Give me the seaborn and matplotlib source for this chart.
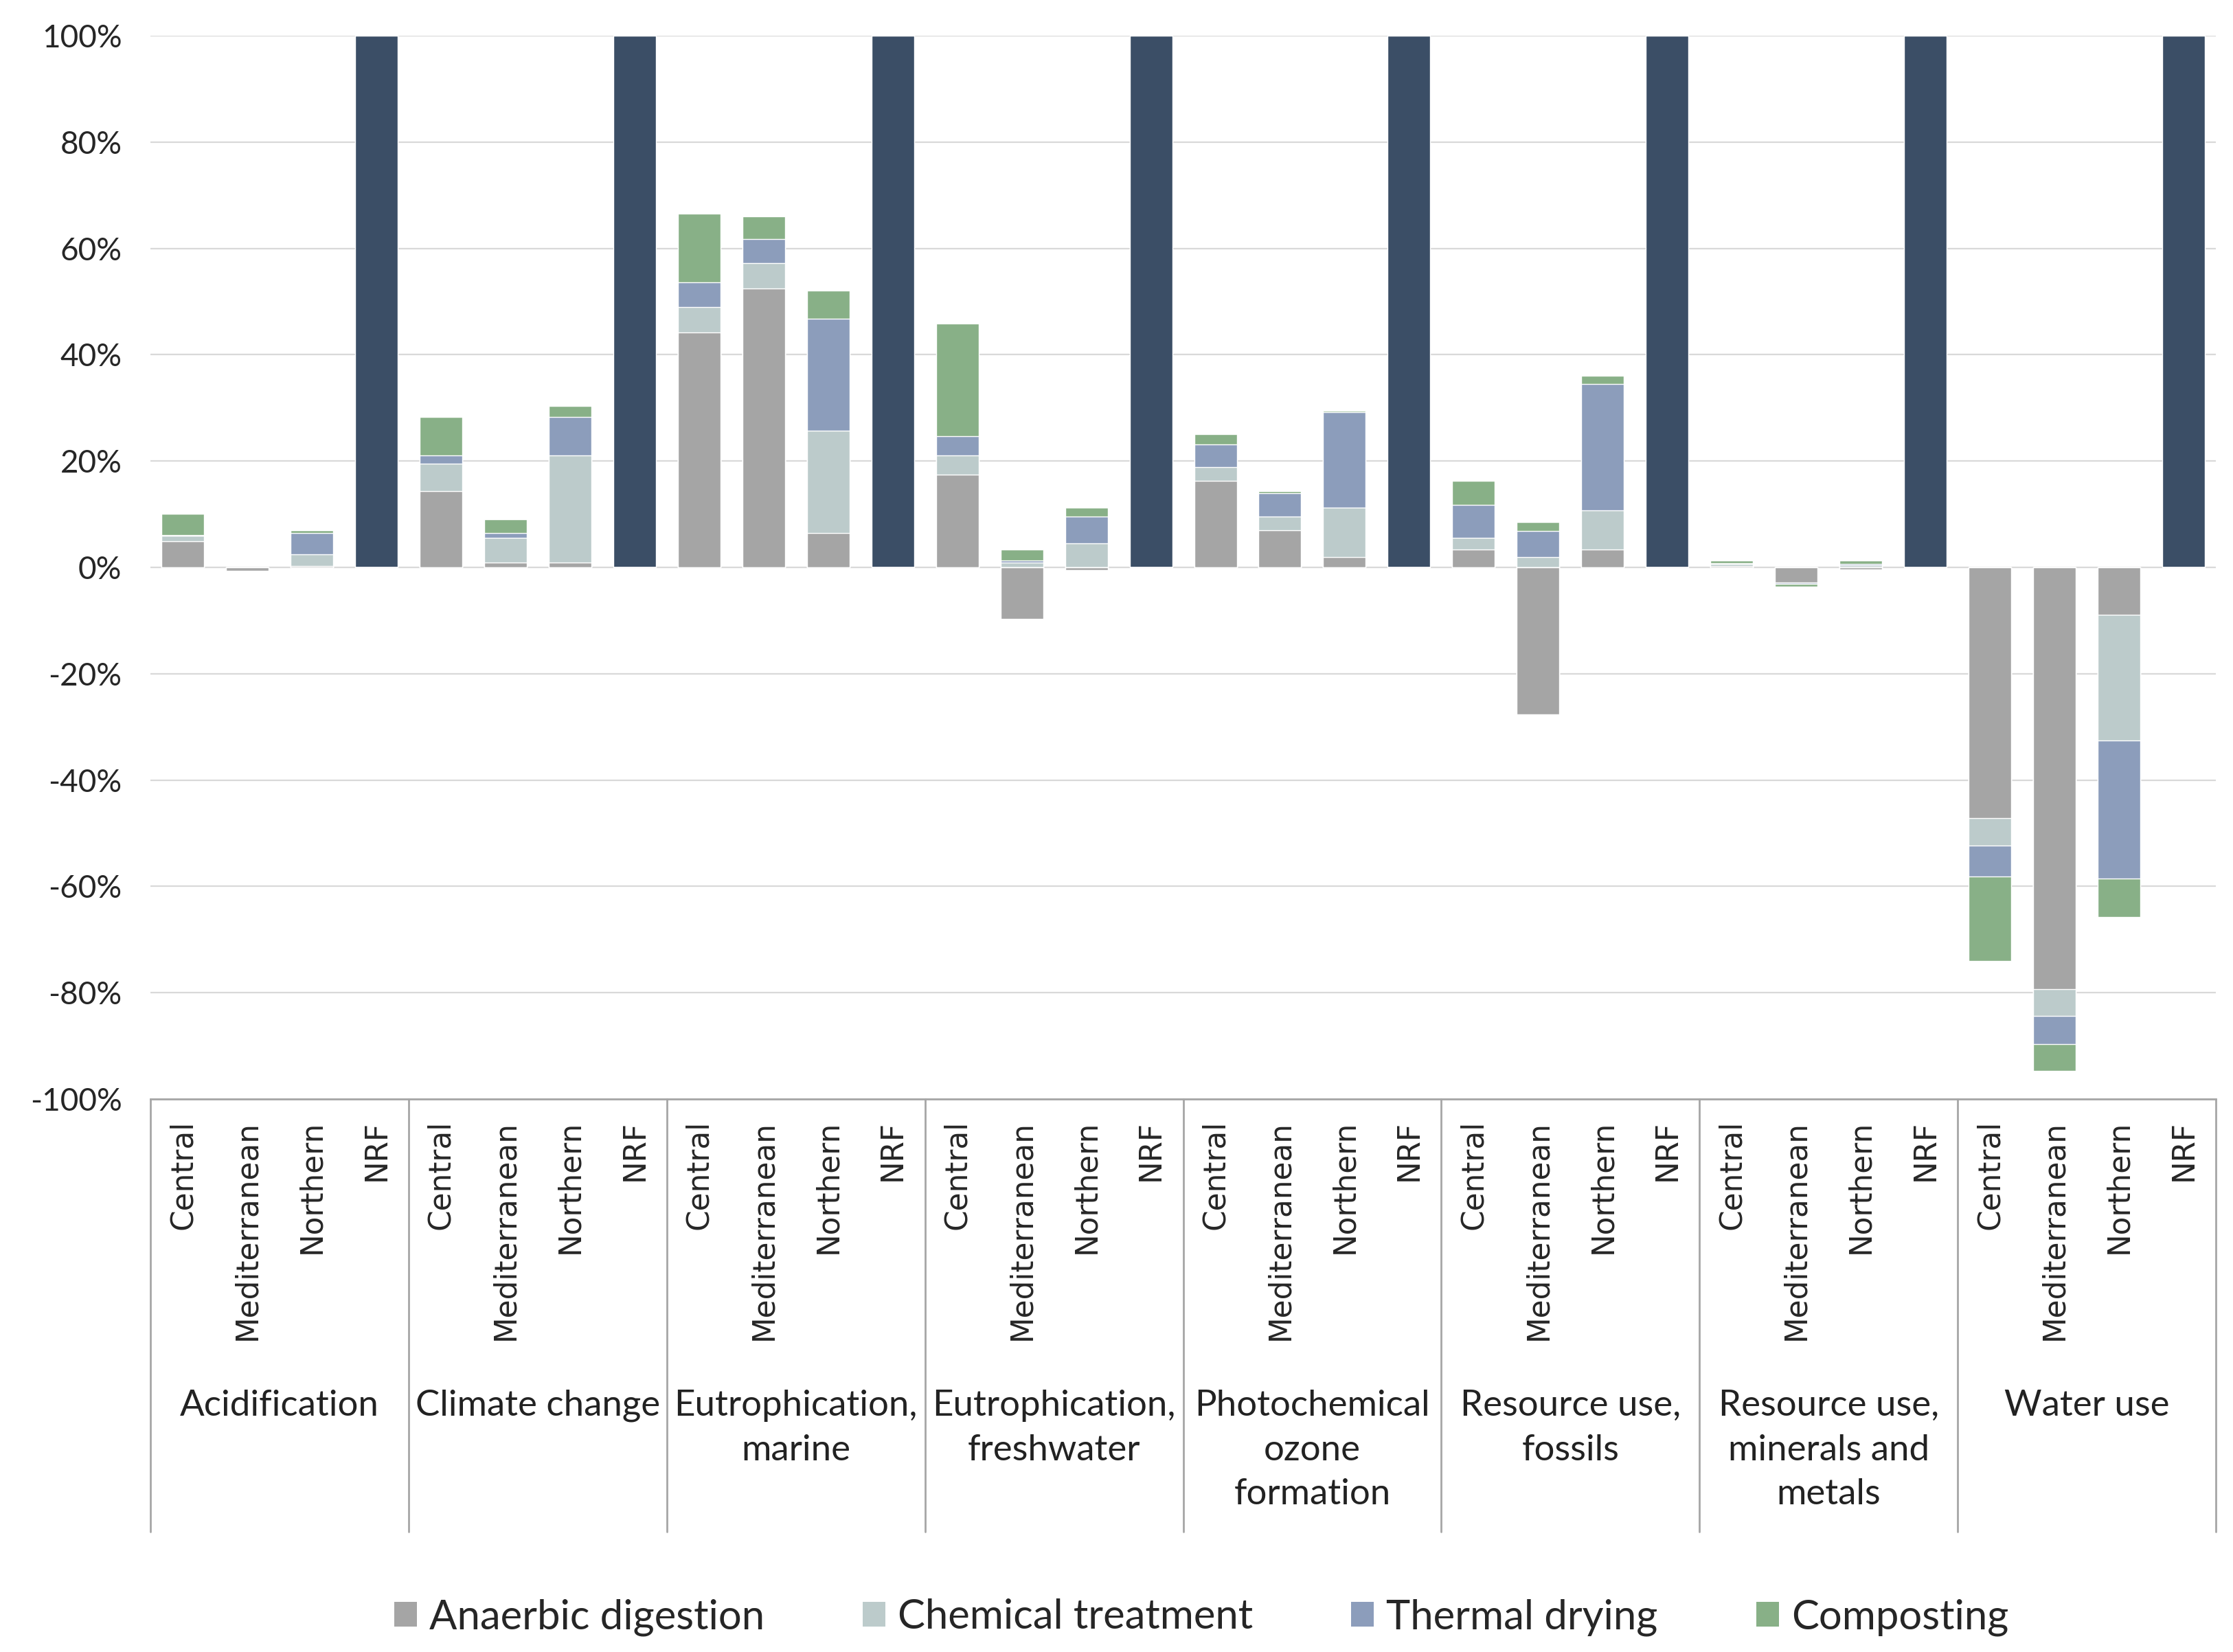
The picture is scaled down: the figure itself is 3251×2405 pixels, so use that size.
import numpy as np
import pandas as pd
import matplotlib
matplotlib.use("Agg")
import matplotlib.pyplot as plt
from matplotlib.patches import Patch
import seaborn as sns

# impact categories and regions
groups = ['Acidification', 'Climate change', 'Eutrophication,\nmarine',
          'Eutrophication,\nfreshwater', 'Photochemical\nozone\nformation',
          'Resource use,\nfossils', 'Resource use,\nminerals and\nmetals', 'Water use']
regions = ['Central', 'Mediterranean', 'Northern', 'NRF']

# contributions (%) per group for Central, Mediterranean, Northern
anaerobic = [4.9, -0.6, 0.3,
             14.3, 0.9, 0.9,
             44.2, 52.5, 6.5,
             17.4, -9.7, -0.5,
             16.3, 7.0, 1.9,
             3.4, -27.7, 3.4,
             0.2, -2.8, -0.4,
             -47.2, -79.3, -8.9]
chemical = [1.0, 0.0, 2.1,
            5.2, 4.6, 20.1,
            4.7, 4.7, 19.2,
            3.6, 0.9, 4.5,
            2.6, 2.6, 9.3,
            2.1, 1.9, 7.3,
            0.4, 0.0, 0.4,
            -5.1, -5.1, -23.7]
thermal = [0.2, 0.0, 4.0,
           1.5, 1.0, 7.3,
           4.7, 4.5, 21.1,
           3.7, 0.4, 5.1,
           4.2, 4.3, 18.0,
           6.2, 5.0, 23.8,
           0.2, -0.3, 0.3,
           -5.8, -5.2, -25.9]
composting = [4.0, 0.0, 0.6,
              7.3, 2.6, 2.1,
              12.9, 4.3, 5.2,
              21.1, 2.0, 1.6,
              2.0, 0.4, 0.2,
              4.6, 1.6, 1.5,
              0.5, -0.5, 0.6,
              -15.9, -5.1, -7.2]
# NRF reference bar per group
nrf = [100, 100, 100, 100, 100, 100, 100, 100]

processes = ['Anaerbic digestion', 'Chemical treatment', 'Thermal drying', 'Composting']
colors = ['#A5A5A5', '#BCCBCB', '#8C9DBB', '#88B087']
nrf_color = '#3B4E66'

# build long table, one row per bar position
rows = []
k = 0
for gi, g in enumerate(groups):
    for r in regions:
        cat = f"{gi}_{r}"
        if r == 'NRF':
            rows.append(dict(cat=cat, region=r, ad=0, ch=0, th=0, co=0, nrf=nrf[gi]))
        else:
            rows.append(dict(cat=cat, region=r, ad=anaerobic[k], ch=chemical[k],
                             th=thermal[k], co=composting[k], nrf=0))
            k += 1
df = pd.DataFrame(rows)
order = list(df['cat'])

# cumulative stacks, positive and negative separately
cols = ['ad', 'ch', 'th', 'co']
pos = df[cols].clip(lower=0).cumsum(axis=1)
neg = df[cols].clip(upper=0).cumsum(axis=1)

sns.set_style("white")
plt.rcParams['font.family'] = ['Liberation Sans Narrow', 'DejaVu Sans Condensed', 'Lato', 'DejaVu Sans']

fig = plt.figure(figsize=(32.51, 24.05), dpi=100)
ax = fig.add_axes([0.0674, 0.3347, 0.9249, 0.6437])

bw = 0.66
sns.barplot(x=df['cat'], y=df['nrf'], order=order, color=nrf_color, saturation=1,
            width=bw, errorbar=None, ax=ax)
for i in range(3, -1, -1):
    c = cols[i]
    sns.barplot(x=df['cat'], y=pos[c], order=order, color=colors[i], saturation=1,
                width=bw, errorbar=None, ax=ax)
    sns.barplot(x=df['cat'], y=neg[c], order=order, color=colors[i], saturation=1,
                width=bw, errorbar=None, ax=ax)

ax.set_xlim(-0.5, len(order) - 0.5)
ax.set_ylim(-100, 100)
ax.set_yticks(np.arange(-100, 101, 20))
ax.set_yticklabels([f"{v}%" for v in range(-100, 101, 20)], fontsize=33)
ax.set_xticks(range(len(order)))
ax.set_xticklabels(df['region'], rotation=90, fontsize=31.5, family='DejaVu Sans',
                   va='top', ha='center')
ax.tick_params(axis='x', length=0, pad=22)
ax.tick_params(axis='y', length=0, pad=30)
ax.set_xlabel('')
ax.set_ylabel('')

ax.yaxis.grid(True, color='#D9D9D9', lw=1.6)
ax.set_axisbelow(True)
for s in ['top', 'right', 'left']:
    ax.spines[s].set_visible(False)
ax.spines['bottom'].set_color('#A6A6A6')
ax.spines['bottom'].set_linewidth(2)

# group separators and group labels below the axis
trans = ax.get_xaxis_transform()
for j in range(len(groups) + 1):
    ax.plot([4 * j - 0.5, 4 * j - 0.5], [0, -0.407], color='#A6A6A6', lw=2,
            transform=trans, clip_on=False)
for gi, g in enumerate(groups):
    ax.text(4 * gi + 1.5, -0.273, g, transform=trans, ha='center', va='top',
            fontsize=38, linespacing=1.47, color='#222222')

handles = [Patch(facecolor=c, edgecolor='none') for c in colors]
fig.legend(handles, processes, loc='center', bbox_to_anchor=(0.538, 0.021), ncol=4,
           frameon=False, fontsize=43, handlelength=0.55, handleheight=0.55,
           handletextpad=0.3, columnspacing=2.4)

fig.savefig('out.png', dpi=100)
